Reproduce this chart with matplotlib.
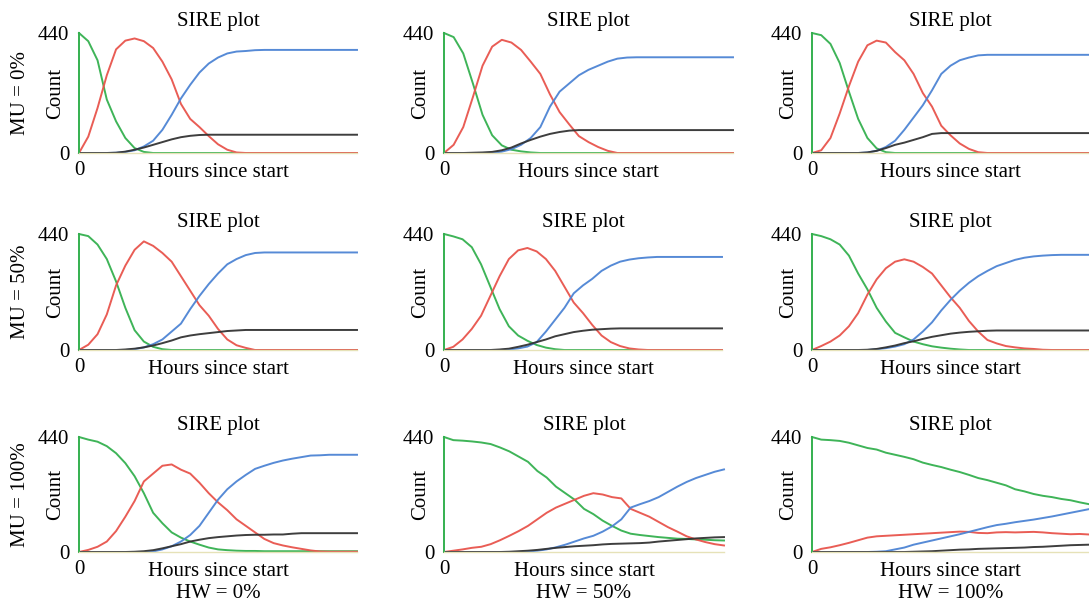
import matplotlib
matplotlib.use("Agg")
import matplotlib.pyplot as plt
import numpy as np

plt.rcParams["font.family"] = ["Liberation Serif", "DejaVu Serif"]

# ---- data: counts, 31 samples per run (S green, I red, R blue, E black)
# row MU = 0%
S_00 = [440, 410, 340, 196, 116, 55, 18, 4, 0, 0, 0, 0, 0, 0, 0, 0, 0, 0, 0, 0, 0, 0, 0, 0, 0, 0, 0, 0, 0, 0, 0]
I_00 = [0, 60, 165, 285, 380, 412, 420, 410, 385, 335, 270, 180, 125, 95, 62, 32, 12, 2, 0, 0, 0, 0, 0, 0, 0, 0, 0, 0, 0, 0, 0]
R_00 = [0, 0, 0, 0, 1, 4, 10, 24, 45, 85, 140, 200, 250, 295, 328, 350, 365, 372, 374, 377, 378, 378, 378, 378, 378, 378, 378, 378, 378, 378, 378]
E_00 = [0, 0, 0, 0, 1, 5, 12, 20, 30, 40, 50, 58, 63, 66, 67, 67, 67, 67, 67, 67, 67, 67, 67, 67, 67, 67, 67, 67, 67, 67, 67]

S_01 = [440, 425, 365, 255, 140, 65, 28, 12, 6, 2, 0, 0, 0, 0, 0, 0, 0, 0, 0, 0, 0, 0, 0, 0, 0, 0, 0, 0, 0, 0, 0]
I_01 = [0, 30, 95, 205, 320, 390, 415, 405, 378, 335, 290, 215, 150, 105, 62, 40, 22, 8, 0, 0, 0, 0, 0, 0, 0, 0, 0, 0, 0, 0, 0]
R_01 = [0, 0, 0, 0, 0, 1, 5, 14, 30, 55, 95, 170, 225, 255, 285, 305, 320, 335, 346, 350, 351, 351, 351, 351, 351, 351, 351, 351, 351, 351, 351]
E_01 = [0, 0, 0, 1, 2, 4, 10, 20, 35, 48, 60, 70, 77, 82, 84, 84, 84, 84, 84, 84, 84, 84, 84, 84, 84, 84, 84, 84, 84, 84, 84]

S_02 = [440, 432, 400, 330, 225, 125, 55, 17, 3, 0, 0, 0, 0, 0, 0, 0, 0, 0, 0, 0, 0, 0, 0, 0, 0, 0, 0, 0, 0, 0, 0]
I_02 = [0, 10, 55, 145, 245, 335, 395, 412, 405, 370, 340, 290, 220, 170, 100, 65, 35, 15, 3, 0, 0, 0, 0, 0, 0, 0, 0, 0, 0, 0, 0]
R_02 = [0, 0, 0, 0, 0, 0, 2, 8, 22, 45, 85, 130, 175, 230, 290, 320, 340, 350, 358, 360, 360, 360, 360, 360, 360, 360, 360, 360, 360, 360, 360]
E_02 = [0, 0, 0, 0, 0, 0, 2, 8, 18, 30, 38, 48, 58, 70, 73, 73, 73, 73, 73, 73, 73, 73, 73, 73, 73, 73, 73, 73, 73, 73, 73]

# row MU = 50%
S_10 = [440, 432, 400, 345, 260, 160, 75, 32, 12, 3, 0, 0, 0, 0, 0, 0, 0, 0, 0, 0, 0, 0, 0, 0, 0, 0, 0, 0, 0, 0, 0]
I_10 = [0, 20, 60, 135, 245, 320, 380, 412, 395, 368, 335, 280, 225, 170, 130, 80, 40, 18, 8, 0, 0, 0, 0, 0, 0, 0, 0, 0, 0, 0, 0]
R_10 = [0, 0, 0, 0, 0, 0, 3, 10, 22, 40, 70, 100, 155, 205, 250, 290, 325, 345, 360, 368, 370, 370, 370, 370, 370, 370, 370, 370, 370, 370, 370]
E_10 = [0, 0, 0, 0, 0, 2, 5, 10, 17, 26, 36, 48, 55, 60, 64, 68, 72, 74, 76, 76, 76, 76, 76, 76, 76, 76, 76, 76, 76, 76, 76]

S_11 = [440, 431, 420, 390, 325, 240, 155, 90, 55, 35, 19, 9, 3, 0, 0, 0, 0, 0, 0, 0, 0, 0, 0, 0, 0, 0, 0, 0, 0, 0, 0]
I_11 = [0, 12, 40, 80, 130, 205, 280, 345, 378, 387, 374, 345, 300, 240, 180, 140, 95, 55, 30, 15, 6, 2, 0, 0, 0, 0, 0, 0, 0, 0, 0]
R_11 = [0, 0, 0, 0, 0, 0, 0, 2, 6, 13, 30, 70, 115, 160, 215, 245, 270, 300, 320, 335, 343, 348, 351, 353, 353, 353, 353, 353, 353, 353, 353]
E_11 = [0, 0, 0, 0, 0, 0, 2, 5, 12, 20, 30, 40, 52, 60, 68, 73, 77, 79, 81, 82, 82, 82, 82, 82, 82, 82, 82, 82, 82, 82, 82]

S_12 = [440, 432, 420, 400, 358, 290, 230, 160, 108, 65, 48, 32, 22, 14, 9, 5, 2, 0, 0, 0, 0, 0, 0, 0, 0, 0, 0, 0, 0, 0, 0]
I_12 = [0, 15, 32, 55, 90, 140, 210, 268, 310, 335, 344, 335, 315, 290, 245, 200, 160, 110, 70, 38, 25, 15, 10, 6, 4, 1, 0, 0, 0, 0, 0]
R_12 = [0, 0, 0, 0, 0, 0, 0, 3, 7, 13, 22, 40, 70, 105, 150, 190, 225, 255, 280, 300, 318, 330, 342, 350, 355, 358, 360, 361, 361, 361, 361]
E_12 = [0, 0, 0, 0, 0, 0, 1, 4, 10, 17, 26, 33, 42, 50, 56, 62, 66, 69, 71, 73, 74, 74, 74, 74, 74, 74, 74, 74, 74, 74, 74]

# row MU = 100%
S_20 = [440, 430, 422, 405, 378, 340, 290, 225, 150, 110, 75, 55, 40, 28, 17, 10, 7, 5, 4, 4, 3, 3, 3, 3, 3, 3, 3, 3, 3, 3, 3]
I_20 = [0, 8, 20, 40, 80, 135, 195, 270, 300, 330, 335, 315, 300, 265, 225, 190, 160, 125, 100, 75, 50, 34, 25, 18, 12, 6, 2, 1, 1, 1, 1]
R_20 = [0, 0, 0, 0, 0, 0, 0, 0, 2, 10, 22, 40, 65, 100, 150, 200, 240, 270, 295, 318, 330, 341, 350, 357, 363, 369, 370, 372, 372, 372, 372]
E_20 = [0, 0, 0, 0, 0, 0, 1, 3, 7, 14, 22, 30, 40, 47, 53, 57, 60, 63, 65, 66, 66, 67, 67, 70, 72, 72, 72, 72, 72, 72, 72]

S_21 = [440, 428, 426, 423, 419, 413, 400, 385, 365, 345, 310, 285, 250, 225, 200, 165, 145, 120, 100, 82, 70, 65, 61, 57, 54, 51, 50, 48, 47, 45, 44]
I_21 = [0, 5, 10, 16, 20, 30, 45, 62, 80, 100, 125, 150, 170, 185, 200, 215, 225, 220, 210, 205, 165, 150, 135, 115, 95, 78, 60, 48, 38, 30, 25]
R_21 = [0, 0, 0, 0, 0, 0, 0, 0, 0, 2, 5, 10, 18, 28, 40, 52, 62, 78, 98, 125, 170, 183, 195, 210, 230, 250, 268, 283, 295, 307, 316]
E_21 = [0, 0, 0, 0, 0, 0, 0, 1, 3, 5, 8, 12, 16, 19, 22, 24, 26, 29, 31, 32, 33, 34, 36, 40, 43, 46, 49, 52, 54, 56, 57]

S_22 = [440, 430, 428, 425, 418, 408, 398, 392, 380, 372, 364, 355, 342, 333, 325, 315, 306, 295, 283, 275, 265, 255, 240, 232, 222, 215, 210, 203, 198, 190, 183]
I_22 = [0, 12, 18, 26, 35, 45, 55, 60, 62, 64, 66, 68, 70, 72, 74, 76, 78, 77, 73, 72, 75, 76, 75, 76, 77, 75, 72, 70, 68, 69, 67]
R_22 = [0, 0, 0, 0, 0, 0, 0, 1, 3, 10, 17, 28, 36, 44, 52, 60, 68, 77, 86, 95, 103, 108, 114, 119, 124, 130, 136, 143, 150, 157, 164]
E_22 = [0, 0, 0, 0, 0, 0, 0, 0, 0, 0, 0, 1, 2, 3, 5, 7, 9, 10, 12, 13, 14, 15, 16, 17, 19, 20, 22, 24, 26, 27, 28]

runs = [[(S_00, I_00, R_00, E_00), (S_01, I_01, R_01, E_01), (S_02, I_02, R_02, E_02)],
        [(S_10, I_10, R_10, E_10), (S_11, I_11, R_11, E_11), (S_12, I_12, R_12, E_12)],
        [(S_20, I_20, R_20, E_20), (S_21, I_21, R_21, E_21), (S_22, I_22, R_22, E_22)]]

row_labels = ["MU = 0%", "MU = 50%", "MU = 100%"]
col_labels = ["HW = 0%", "HW = 50%", "HW = 100%"]
y_max = 440

colors = ["#34b04f", "#e8544c", "#4d84d4", "#333333"]

# ---- layout (pixel boxes of each panel)
W, H = 1089, 604
row_px = [(33, 153), (234, 350), (437, 552)]
col_left = [79, 444, 812]
col_right = [[357, 733, 1089], [357, 722, 1089], [357, 724, 1089]]
fs = 15

fig = plt.figure(figsize=(W / 100, H / 100), dpi=100)

for r in range(3):
    top, bot = row_px[r]
    for c in range(3):
        left, right = col_left[c], col_right[r][c]
        ax = fig.add_axes([left / W, 1 - bot / H, (right - left) / W, (bot - top) / H])
        series = runs[r][c]
        t = np.arange(len(series[0]))
        for vals, col in zip(series, colors):
            ax.plot(t, vals, color=col, lw=1.4, alpha=0.95, clip_on=False)
        ax.set_xlim(0, len(t) - 1)
        ax.set_ylim(0, y_max)
        ax.set_xticks([0])
        ax.set_yticks([0, y_max])
        ax.tick_params(axis="both", length=0, labelsize=fs)
        ax.tick_params(axis="x", pad=6)
        ax.tick_params(axis="y", pad=7)
        for s in ["top", "right"]:
            ax.spines[s].set_visible(False)
        ax.spines["left"].set_color(colors[0])
        ax.spines["left"].set_linewidth(1.4)
        ax.spines["bottom"].set_color("#e6e2b8")
        ax.spines["bottom"].set_linewidth(1.0)
        ax.set_title("SIRE plot", fontsize=fs, pad=5)
        ax.annotate("Hours since start", xy=(0.5, 0), xycoords="axes fraction",
                    xytext=(0, -24), textcoords="offset pixels",
                    ha="center", va="baseline", fontsize=fs)
        ax.annotate("Count", xy=(0, 0.5), xycoords="axes fraction",
                    xytext=(-23, 0), textcoords="offset pixels",
                    ha="center", va="center", rotation=90, fontsize=fs)
        if c == 0:
            ax.annotate(row_labels[r], xy=(0, 0.5), xycoords="axes fraction",
                        xytext=(-59, 0), textcoords="offset pixels",
                        ha="center", va="center", rotation=90, fontsize=fs)
        if r == 2:
            ax.annotate(col_labels[c], xy=(0.5, 0), xycoords="axes fraction",
                        xytext=(0, -41), textcoords="offset pixels",
                        ha="center", va="center", fontsize=fs)

fig.savefig("out.png", dpi=100, facecolor="white")
